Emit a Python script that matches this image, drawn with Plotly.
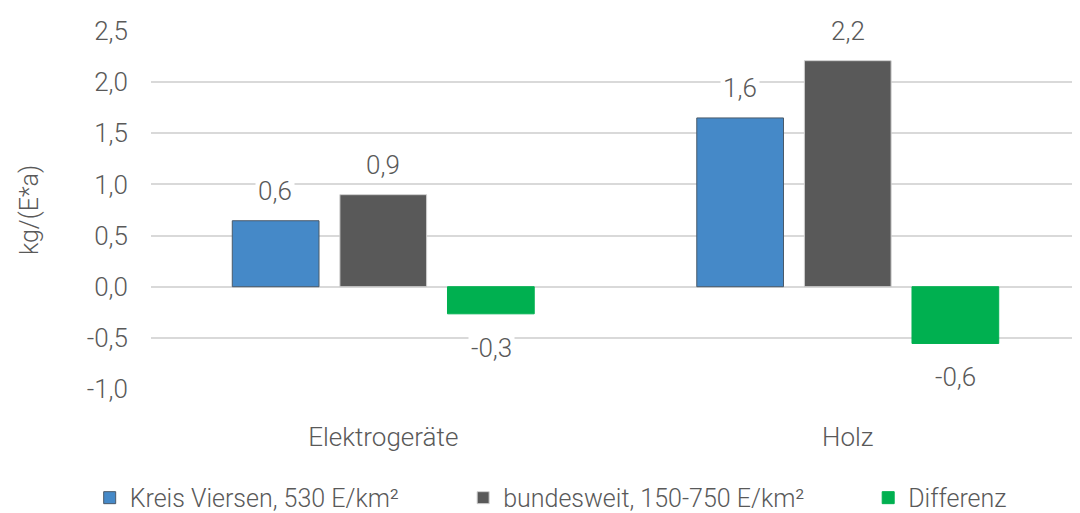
import plotly.graph_objects as go

# categories and series
categories = ["Elektrogeräte", "Holz"]
series_names = ["Kreis Viersen, 530 E/km²", "bundesweit, 150-750 E/km²", "Differenz"]
kreis = [0.645, 1.65]
bund = [0.90, 2.21]
diff = [-0.265, -0.555]
# labels as shown on the chart (one decimal, German comma)
kreis_labels = ["0,6", "1,6"]
bund_labels = ["0,9", "2,2"]
diff_labels = ["-0,3", "-0,6"]
y_ticks = [-1.0, -0.5, 0.0, 0.5, 1.0, 1.5, 2.0, 2.5]

FONT = "Roboto, sans-serif"
TXT = "#595959"
colors = ["#4589C8", "#595959", "#00B050"]
outlines = ["#4A5A6A", "#D0D0D0", "#00B050"]
# one legend box per series so each entry sits where it does in the original
legend_ids = ["legend", "legend2", "legend3"]
legend_x = [-0.066, 0.336, 0.772]

fig = go.Figure()
all_vals = [kreis, bund, diff]
for name, vals, col, oc, lg in zip(series_names, all_vals, colors, outlines, legend_ids):
    fig.add_trace(go.Bar(
        x=categories, y=vals, name=name, legend=lg,
        marker=dict(color=col, line=dict(color=oc, width=1)),
    ))

# data labels with white box (as in the original, over the gridlines)
all_labels = [kreis_labels, bund_labels, diff_labels]
slot_px = 108
for i, (vals, labs) in enumerate(zip(all_vals, all_labels)):
    for cat, v, lab in zip(categories, vals, labs):
        fig.add_annotation(
            x=cat, y=v, text=lab, showarrow=False,
            xshift=(i - 1) * slot_px,
            yanchor="bottom" if v >= 0 else "top",
            yshift=12 if v >= 0 else -16,
            font=dict(family=FONT, size=26, color=TXT, weight=300),
            bgcolor="white", borderpad=2,
        )

legend_style = dict(
    orientation="h", xanchor="left", y=-0.24, yanchor="top",
    font=dict(family=FONT, size=25, color=TXT, weight=300),
    itemwidth=30, bgcolor="rgba(0,0,0,0)",
)

# page body has an 8px margin, so the figure is a bit smaller than the window
fig.update_layout(
    width=1072, height=505,
    margin=dict(l=143, r=0, t=23, b=124, autoexpand=False),
    paper_bgcolor="white", plot_bgcolor="white",
    barmode="group", bargap=0.305, bargroupgap=0.194,
    font=dict(family=FONT, size=24, color=TXT, weight=300),
    showlegend=True,
    legend=dict(x=legend_x[0], **legend_style),
    legend2=dict(x=legend_x[1], **legend_style),
    legend3=dict(x=legend_x[2], **legend_style),
)
fig.update_yaxes(
    range=[-1.0, 2.5], tickvals=y_ticks,
    ticktext=[f"{t:.1f}".replace(".", ",") for t in y_ticks],
    showgrid=True, gridcolor="#D9D9D9", gridwidth=1.5,
    zeroline=False, showline=False, ticks="",
    tickfont=dict(family=FONT, size=26, color=TXT, weight=300), ticklabelstandoff=22,
    title=dict(text="kg/(E*a)", font=dict(family=FONT, size=25, color=TXT, weight=300), standoff=40),
)
fig.update_xaxes(
    showline=False, ticks="", showgrid=False,
    tickfont=dict(family=FONT, size=26, color=TXT, weight=300), ticklabelstandoff=30,
)

fig.write_html("out.html")
